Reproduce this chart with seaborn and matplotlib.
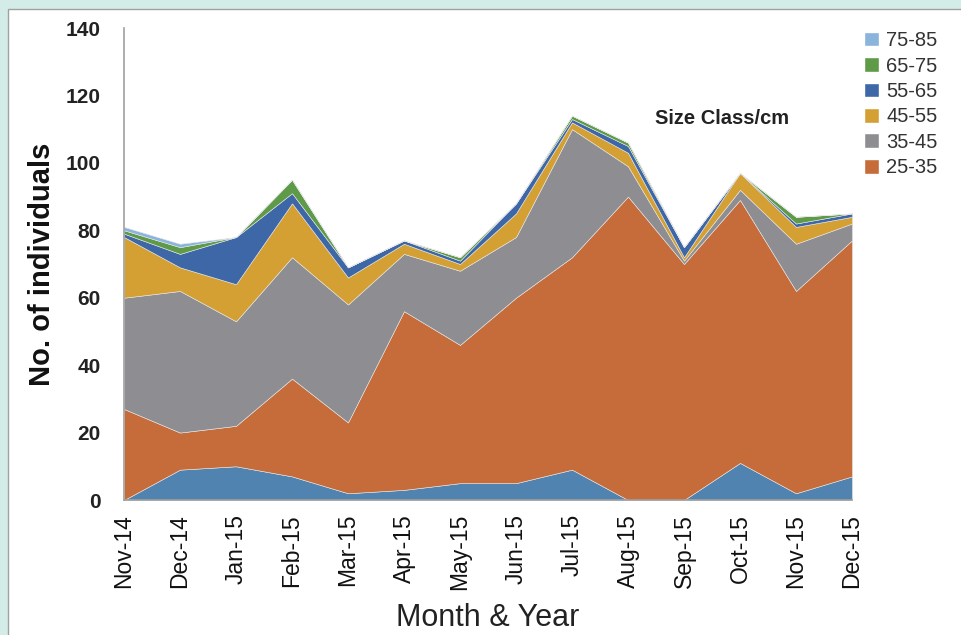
import matplotlib
matplotlib.use("Agg")
import matplotlib.pyplot as plt
import seaborn as sns
from matplotlib.patches import Rectangle, Patch

# Dados
months = ['Nov-14', 'Dec-14', 'Jan-15', 'Feb-15', 'Mar-15', 'Apr-15', 'May-15',
          'Jun-15', 'Jul-15', 'Aug-15', 'Sep-15', 'Oct-15', 'Nov-15', 'Dec-15']
c15_25 = [0, 9, 10, 7, 2, 3, 5, 5, 9, 0, 0, 11, 2, 7]
c25_35 = [27, 11, 12, 29, 21, 53, 41, 55, 63, 90, 70, 78, 60, 70]
c35_45 = [33, 42, 31, 36, 35, 17, 22, 18, 38, 9, 1, 3, 14, 5]
c45_55 = [18, 7, 11, 16, 8, 3, 2, 7, 2, 4, 1, 5, 5, 2]
c55_65 = [1, 4, 14, 3, 3, 1, 1, 3, 1, 2, 3, 0, 1, 1]
c65_75 = [1, 2, 0, 4, 0, 0, 1, 0, 1, 1, 0, 0, 2, 0]
c75_85 = [1, 1, 0, 0, 0, 0, 0, 0, 0, 0, 0, 0, 0, 0]
class_labels = ['_15-25', '25-35', '35-45', '45-55', '55-65', '65-75', '75-85']
colors = ['#5183b0', '#c66c3a', '#8e8d91', '#d4a034', '#3d67a6', '#5f9a48', '#8ab4dc']

sns.set_style('white')
plt.rcParams['font.family'] = ['Liberation Sans', 'DejaVu Sans']

fig = plt.figure(figsize=(9.61, 6.35), dpi=100)
fig.patch.set_facecolor('#d4ece8')
# painel branco
fig.patches.append(Rectangle((8 / 961, -0.01), 1.0, 1 - 9 / 635 + 0.01,
                             transform=fig.transFigure, facecolor='white',
                             edgecolor='#a0a0a0', linewidth=1, zorder=-10))

ax = fig.add_axes([124 / 961, 1 - 500 / 635, 728 / 961, 472 / 635])
ax.set_facecolor('none')
x = list(range(len(months)))
series = [c15_25, c25_35, c35_45, c45_55, c55_65, c65_75, c75_85]
ax.stackplot(x, *series, colors=colors, labels=class_labels,
             edgecolor='#e6e6e6', linewidth=0.4)

ax.set_xlim(0, len(months) - 1)
ax.set_ylim(0, 140)
ax.set_yticks(range(0, 141, 20))
ax.set_yticklabels([str(v) for v in range(0, 141, 20)], fontsize=15,
                   color='#222222', fontweight='bold')
ax.set_xticks(x)
ax.set_xticklabels(months, rotation=90, fontsize=16.5, color='#111111')
ax.tick_params(axis='x', length=0, pad=10)
ax.tick_params(axis='y', length=0, pad=17)

for s in ['top', 'right']:
    ax.spines[s].set_visible(False)
ax.spines['left'].set_color('#a0a0a0')
ax.spines['bottom'].set_color('#a0a0a0')
ax.spines['left'].set_linewidth(1.2)
ax.spines['bottom'].set_linewidth(1.2)

ax.set_ylabel('No. of individuals', fontsize=21, color='#111111',
              fontweight='bold', labelpad=7)
ax.set_xlabel('Month & Year', fontsize=22, color='#222222', labelpad=9)

handles = [Patch(facecolor=c, label=l) for c, l in zip(colors[1:], class_labels[1:])][::-1]
leg = fig.legend(handles=handles, loc='upper left', bbox_to_anchor=(854 / 961, 1 - 21 / 635),
                 frameon=False, fontsize=14.5, handlelength=0.75, handleheight=0.75,
                 handletextpad=0.35, labelspacing=0.32, borderpad=0)
for t in leg.get_texts():
    t.set_color('#333333')

fig.text(722 / 961, 1 - 118 / 635, 'Size Class/cm', ha='center', va='center',
         fontsize=14.5, color='#222222', fontweight='bold')

fig.savefig('out.png', dpi=100, facecolor=fig.get_facecolor())
